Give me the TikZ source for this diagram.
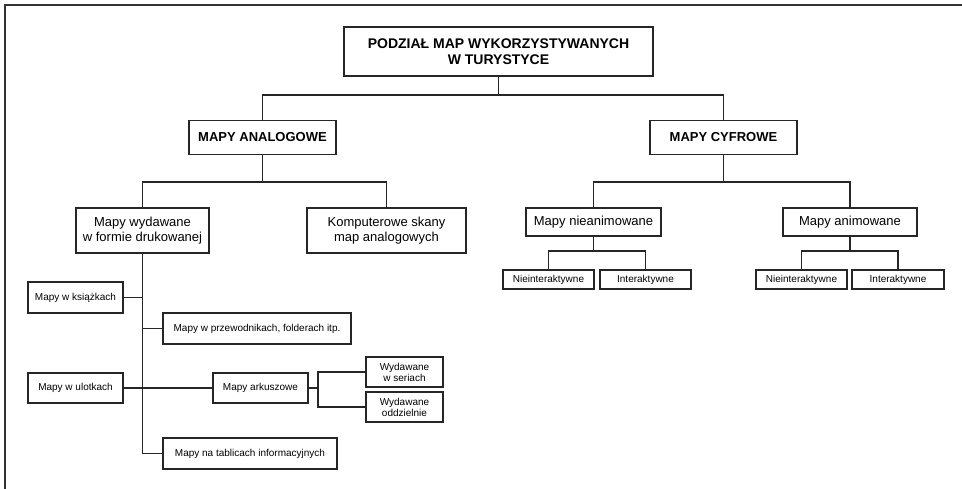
\documentclass[tikz,border=0pt]{standalone}
\usepackage{fontspec}
\setmainfont{Liberation Sans}
\usetikzlibrary{calc}
\tikzset{
  mapbox/.style={draw=black!85,line width=1.5pt,fill=white,align=center,inner sep=1pt,
    font=\fontsize{13}{15}\selectfont},
  headbox/.style={mapbox,font=\fontsize{13}{15}\selectfont\bfseries},
  leafbox/.style={mapbox,font=\fontsize{10}{11}\selectfont},
  link/.style={draw=black!85,line width=1.5pt}
}
\begin{document}
\begin{tikzpicture}[x=1pt,y=1pt,line join=miter,line cap=rect]

  \useasboundingbox (0,0) rectangle (962,-489);

  % ---- ramka ----------------------------------------------------------------
  \draw[draw=black!80,line width=1.8pt] (5,-489) -- (5,-5) -- (962,-5);

  % ---- poziom 0 i 1 ---------------------------------------------------------
  \node[headbox,font=\fontsize{14}{16}\selectfont\bfseries,
        minimum width=309,minimum height=49] (title) at (498.5,-51.5)
        {PODZIAŁ MAP WYKORZYSTYWANYCH\\W TURYSTYCE};
  \node[headbox,minimum width=147,minimum height=34] (ana) at (262.5,-137.5) {MAPY ANALOGOWE};
  \node[headbox,minimum width=147,minimum height=34] (cyf) at (723.5,-137.5) {MAPY CYFROWE};

  % ---- mapy analogowe -------------------------------------------------------
  \node[mapbox,minimum width=133,minimum height=45] (wyd) at (142.5,-230.5)
        {Mapy wydawane\\w formie drukowanej};
  \node[mapbox,minimum width=159,minimum height=45] (kom) at (386.5,-230.5)
        {Komputerowe skany\\map analogowych};

  \node[leafbox,minimum width=95,minimum height=31] (ksi) at (75.5,-297.5) {Mapy w książkach};
  \node[leafbox,minimum width=188,minimum height=31] (prz) at (257,-328.5) {Mapy w przewodnikach, folderach itp.};
  \node[leafbox,minimum width=95,minimum height=30] (ulo) at (75.5,-388) {Mapy w ulotkach};
  \node[leafbox,minimum width=95,minimum height=30] (ark) at (260.5,-388) {Mapy arkuszowe};
  \node[leafbox,minimum width=77,minimum height=30] (ser) at (404.5,-372) {Wydawane\\w seriach};
  \node[leafbox,minimum width=77,minimum height=30] (odd) at (404.5,-407) {Wydawane\\oddzielnie};
  \node[leafbox,minimum width=174,minimum height=31] (tab) at (250,-453.5) {Mapy na tablicach informacyjnych};

  % ---- mapy cyfrowe ---------------------------------------------------------
  \node[mapbox,minimum width=135,minimum height=28] (nie) at (593.5,-222) {Mapy nieanimowane};
  \node[mapbox,minimum width=134,minimum height=28] (ani) at (850,-222) {Mapy animowane};

  \node[leafbox,minimum width=91,minimum height=19] (ni1) at (548.5,-279.5) {Nieinteraktywne};
  \node[leafbox,minimum width=91,minimum height=19] (in1) at (645.5,-279.5) {Interaktywne};
  \node[leafbox,minimum width=91,minimum height=19] (ni2) at (801.5,-279.5) {Nieinteraktywne};
  \node[leafbox,minimum width=92,minimum height=19] (in2) at (898,-279.5) {Interaktywne};

  % ---- polaczenia -----------------------------------------------------------
  \coordinate (bus1) at (0,-95);
  \coordinate (bus2) at (0,-182);
  \coordinate (bus3) at (0,-251);

  \draw[link] (title.south) -- (title.south |- bus1);
  \draw[link] (ana.north) -- (ana.north |- bus1) -- (cyf.north |- bus1) -- (cyf.north);

  \draw[link] (ana.south) -- (ana.south |- bus2);
  \draw[link] (wyd.north) -- (wyd.north |- bus2) -- (kom.north |- bus2) -- (kom.north);
  \draw[link] (cyf.south) -- (cyf.south |- bus2);
  \draw[link] (nie.north) -- (nie.north |- bus2) -- (ani.north |- bus2) -- (ani.north);

  \draw[link] (nie.south) -- (nie.south |- bus3);
  \draw[link] (ni1.north) -- (ni1.north |- bus3) -- (in1.north |- bus3) -- (in1.north);
  \draw[link] (ani.south) -- (ani.south |- bus3);
  \draw[link] (ni2.north) -- (ni2.north |- bus3) -- (in2.north |- bus3) -- (in2.north);

  \draw[link] (wyd.south) |- (tab.west);
  \draw[link] (ksi.east) -- (ksi.east -| wyd.south);
  \draw[link] (prz.west) -- (prz.west -| wyd.south);
  \draw[link] (ulo.east) -- (ark.west);

  \coordinate (fork) at ($(ark.east)+(9,0)$);
  \draw[link] (ark.east) -- (fork);
  \draw[link] (ser.west) -| (fork) |- (odd.west);

\end{tikzpicture}
\end{document}
